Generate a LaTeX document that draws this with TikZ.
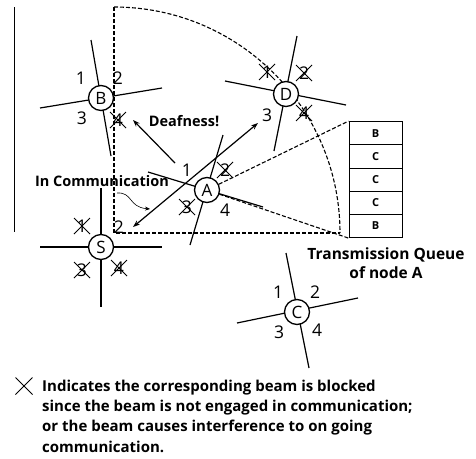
\documentclass[tikz,border=0pt]{standalone}
\usepackage{fontspec}
\setmainfont{Open Sans}
\usetikzlibrary{arrows.meta}
\begin{document}
\begin{tikzpicture}[x=1pt,y=-1pt,
  beam/.style={line width=1.2pt},
  stn/.style={circle,draw,line width=1.3pt,fill=white,minimum size=25pt,inner sep=0pt,font=\fontsize{17}{17}\selectfont},
  num/.style={inner sep=0pt,font=\fontsize{17.5}{17.5}\selectfont},
  dsh/.style={dash pattern=on 4pt off 2pt,line width=1.1pt},
  boldlbl/.style={inner sep=0pt,font=\bfseries\fontsize{14.5}{15}\selectfont},
  qcell/.style={draw,line width=1pt,minimum width=53pt,minimum height=23.2pt,inner sep=0pt,font=\bfseries\fontsize{11}{11}\selectfont},
  arr/.style={line width=1.2pt,-{Stealth[length=7pt,width=5pt]}},
  darr/.style={line width=1.2pt,{Stealth[length=7pt,width=5pt]}-{Stealth[length=7pt,width=5pt]}},
  xcross/.pic={\draw[line width=0.9pt] (-8,-8)--(8,8) (-8,8)--(8,-8);},
  lxcross/.pic={\draw[line width=0.9pt] (-8.5,-8.5)--(8.5,8.5) (-8.5,8.5)--(8.5,-8.5);}
]
\useasboundingbox (0,0) rectangle (476,458);

% left rule
\coordinate (l1) at (14,7);
\coordinate (l2) at (14,232);
\draw[line width=1pt] (l1)--(l2);

% dashed quarter range
\coordinate (rt) at (114,7);
\coordinate (rc) at (114,233);
\coordinate (rr) at (340,233);
\draw[dsh] (rt)--(rc)--(rr);
\draw[dsh] (rt) arc[start angle=-90,end angle=0,radius=226];

% beams
\draw[beam] (91,40)--(111,156);
\draw[beam] (40,108)--(162,88);
\draw[beam] (297,36)--(274,151);
\draw[beam] (225,81)--(346,105);
\draw[beam] (101,188)--(101,307);
\draw[beam] (40,247)--(162,247);
\draw[beam] (148,172)--(263,207);
\draw[beam] (223,135)--(190,245);
\draw[beam] (286,253)--(309,368);
\draw[beam] (237,323)--(358,298);

% stations
\node[stn] (B) at (101,98) {B};
\node[stn] (D) at (286,94) {D};
\node[stn] (S) at (101,247) {S};
\node[stn] (A) at (207,190) {A};
\node[stn] (C) at (297,312) {C};

% beam numbers
\node[num] (b1) at (81,78) {1};
\node[num] (b2) at (118,78) {2};
\node[num] (b3) at (82,118) {3};
\node[num] (b4) at (118,120) {4}; \pic at (b4) {xcross};

\node[num] (d1) at (267,72) {1}; \pic at (d1) {xcross};
\node[num] (d2) at (304,73) {2}; \pic at (d2) {xcross};
\node[num] (d3) at (267,115) {3};
\node[num] (d4) at (304,113) {4}; \pic at (d4) {xcross};

\node[num] (s1) at (82,226) {1}; \pic at (s1) {xcross};
\node[num] (s2) at (119,227) {2};
\node[num] (s3) at (82,270) {3}; \pic at (s3) {xcross};
\node[num] (s4) at (119,268) {4}; \pic at (s4) {xcross};

\node[num] (a1) at (187,170) {1};
\node[num] (a2) at (225,170) {2}; \pic at (a2) {xcross};
\node[num] (a3) at (187,207) {3}; \pic at (a3) {xcross};
\node[num] (a4) at (225,210) {4};

\node[num] (c1) at (278,292) {1};
\node[num] (c2) at (315,292) {2};
\node[num] (c3) at (279,332) {3};
\node[num] (c4) at (317,330) {4};

% transmission queue
\node[qcell] (q1) at (375.5,133.2) {B};
\node[qcell] (q2) at (375.5,156.4) {C};
\node[qcell] (q3) at (375.5,179.6) {C};
\node[qcell] (q4) at (375.5,202.8) {C};
\node[qcell] (q5) at (375.5,226.0) {B};
\draw[dsh] (A)--(q1.north west);
\draw[dsh] (A)--(q5.south west);
\node[boldlbl,align=center,font=\bfseries\fontsize{15.5}{19}\selectfont] (tq) at (386,263) {Transmission Queue\\of node A};

% arrows
\coordinate (e1) at (133,227);
\coordinate (e2) at (258,123);
\draw[darr] (e1)--(e2);
\coordinate (f1) at (175,163);
\coordinate (f2) at (133,120);
\draw[arr] (f1)--(f2);
\node[boldlbl] (deaf) at (184,121) {Deafness!};
\node[boldlbl] (comm) at (102,181) {In Communication};
\coordinate (w1) at (117,193);
\coordinate (w2) at (150,209);
\draw[line width=0.6pt,-{Stealth[length=5pt,width=4pt]}] (w1) .. controls (133,192) and (128,207) .. (w2);

% legend
\coordinate (lx) at (24,386);
\pic at (lx) {lxcross};
\node[boldlbl,anchor=north west,align=left,font=\bfseries\fontsize{15}{20.4}\selectfont] (leg) at (42,379.5)
  {Indicates the corresponding beam is blocked\\since the beam is not engaged in communication;\\or the beam causes interference to on going\\communication.};
\end{tikzpicture}
\end{document}
